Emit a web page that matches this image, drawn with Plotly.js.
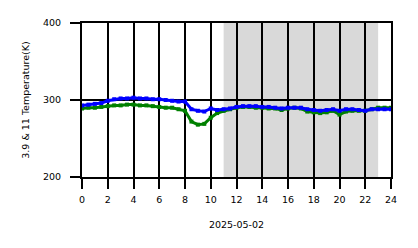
<!DOCTYPE html>
<html><head><meta charset="utf-8">
<script src="https://cdn.plot.ly/plotly-3.0.1.min.js"></script>
<style>html,body{margin:0;padding:0;background:#fff}#chart{width:418px;height:248px}</style>
</head><body><div id="chart"></div>
<script>
const hours = [0,0.5,1,1.5,2,2.5,3,3.5,4,4.5,5,5.5,6,6.5,7,7.5,8,8.5,9,9.5,10,10.5,11,11.5,12,12.5,13,13.5,14,14.5,15,15.5,16,16.5,17,17.5,18,18.5,19,19.5,20,20.5,21,21.5,22,22.5,23,23.5,24];
const tempBlue = [293,294,295,296,299,301,302,302,303,302,302,301,301,300,299,298,298,288,286,285,289,287,288,289,291,292,292,292,291,291,290,289,290,290,290,288,287,286,287,288,286,288,288,287,286,288,288,288,288];
const tempGreen = [289,290,290,291,292,293,293,294,294,293,293,292,291,290,290,288,286,272,268,269,277,283,286,288,290,291,291,290,290,289,289,287,289,290,289,285,284,283,284,286,281,285,286,286,286,288,290,290,290];
const xTicks = [0,2,4,6,8,10,12,14,16,18,20,22,24];
const yTicks = [200,300,400];
const shadeStart = 11, shadeEnd = 23;

const traces = [
  {x: hours, y: tempGreen, mode: 'lines+markers', line: {color: '#008000', width: 3}, marker: {color: '#008000', size: 4, symbol: 'square'}, hoverinfo: 'skip'},
  {x: hours, y: tempBlue, mode: 'lines+markers', line: {color: '#0000ff', width: 3}, marker: {color: '#0000ff', size: 4, symbol: 'square'}, hoverinfo: 'skip'}
];
const layout = {
  width: 418, height: 248,
  margin: {l: 82, r: 27, t: 23, b: 71},
  paper_bgcolor: '#fff', plot_bgcolor: '#fff',
  showlegend: false,
  font: {family: 'DejaVu Sans', size: 9.5, color: '#000'},
  xaxis: {range: [0, 24], tickvals: xTicks, ticktext: xTicks.map(String), showgrid: true, gridcolor: '#000', gridwidth: 2,
    zeroline: false, showline: true, linecolor: '#000', linewidth: 2, mirror: true,
    ticks: 'outside', ticklen: 10, tickwidth: 2, tickcolor: '#000', ticklabelstandoff: 3,
    title: {text: '2025-05-02', font: {size: 9.5}, standoff: 17}},
  yaxis: {range: [200, 400], tickvals: yTicks, ticktext: yTicks.map(String), showgrid: true, gridcolor: '#000', gridwidth: 2,
    zeroline: false, showline: true, linecolor: '#000', linewidth: 2, mirror: true,
    ticks: 'outside', ticklen: 10, tickwidth: 2, tickcolor: '#000', ticklabelstandoff: 7,
    title: {text: '3.9 & 11 Temperature(K)', font: {size: 9.5}, standoff: 12}},
  shapes: [{type: 'rect', xref: 'x', yref: 'paper', x0: shadeStart, x1: shadeEnd, y0: 0, y1: 1, fillcolor: '#d9d9d9', line: {width: 0}, layer: 'below'}]
};
Plotly.newPlot('chart', traces, layout, {staticPlot: true, displayModeBar: false});
</script></body></html>
